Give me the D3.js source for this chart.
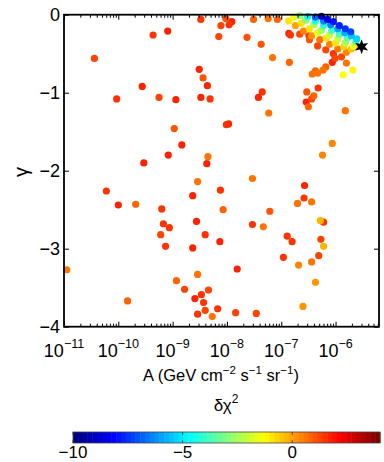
<!DOCTYPE html>
<html>
<head>
  <meta charset="UTF-8">
  <script src="https://d3js.org/d3.v7.min.js"></script>
  <style>
    body { margin: 0; background: #fff; }
    text { font-family: "Liberation Sans", Arial, sans-serif; fill: #000; }
  </style>
</head>
<body>
<svg></svg>
<script>
  let width = 384,
    height = 462;

  // log10 of A (GeV cm^-2 s^-1 sr^-1), gamma, delta chi^2
  const logA = [
    -10.44, -9.36, -9.09, -8.48, -8.51, -9.56, -10.03, -9.25, -8.94, -8.48,
    -8.97, -8.83, -9.08, -9.53, -8.11, -8.02, -7.96, -7.91, -8.15, -7.51,
    -7.24, -7.07, -6.86, -7.63, -7.37, -6.86, -6.83, -7.16, -6.85, -8.44,
    -8.36, -8.31, -7.35, -7.42, -7.23, -8.01, -7.97, -8.35, -8.37, -7.53,
    -6.06, -6.24, -5.82, -6.53, -6.40, -6.44, -6.54, -6.50, -6.32, -5.86,
    -5.68, -5.80, -6.43, -6.37, -6.33, -6.23, -6.18, -6.49, -10.22, -10.00,
    -9.68, -9.20, -9.17, -9.06, -9.22, -9.13, -10.95, -8.93, -8.78, -8.59,
    -9.83, -8.54, -8.63, -8.54, -8.56, -8.63, -8.54, -8.12, -8.07, -8.40,
    -8.13, -7.53, -7.33, -7.21, -7.81, -8.47, -8.43, -8.34, -8.40, -8.27,
    -8.17, -7.84, -7.46, -6.57, -6.58, -6.70, -6.44, -6.28, -6.22, -6.89,
    -6.80, -6.27, -6.22, -6.96, -6.68, -6.44, -6.31, -6.37, -6.60,
    // dense group near the best fit
    -6.26, -6.15, -6.04, -5.93, -5.82, -5.72,
    -6.37, -6.22, -6.09, -5.96, -5.83, -5.71, -5.61,
    -6.51, -6.37, -6.22, -6.07, -5.93, -5.78, -5.63,
    -6.66, -6.55, -6.40, -6.26, -6.11, -5.96, -5.82, -5.67,
    -6.77, -6.63, -6.48, -6.33, -6.17, -6.00, -5.85, -5.71,
    -6.74, -6.59, -6.44, -6.29, -6.11, -5.96, -5.80, -5.63,
    -6.66, -6.48, -6.33, -6.18, -6.04, -5.89, -6.06, -6.01
  ];
  const gamma = [
    -0.56, -0.26, -0.21, -0.06, -0.70, -0.92, -1.08, -1.06, -1.09, -1.06,
    -1.46, -1.67, -1.80, -1.90, -0.14, -0.05, -0.13, -0.09, -0.28, -0.06,
    -0.05, -0.06, -0.08, -0.29, -0.38, -0.24, -0.26, -0.55, -0.61, -0.81,
    -0.91, -1.08, -0.99, -1.06, -1.26, -1.41, -1.40, -1.82, -1.91, -2.10,
    -1.65, -1.80, -1.23, -0.99, -1.04, -1.08, -1.12, -1.18, -0.94, -0.77,
    -0.71, -0.62, -0.76, -0.72, -0.75, -0.71, -0.67, -0.27, -2.26, -2.44,
    -2.43, -2.49, -2.68, -2.73, -2.82, -2.97, -3.27, -3.41, -3.52, -3.64,
    -3.67, -3.84, -2.32, -2.14, -2.65, -2.99, -3.33, -2.25, -2.50, -2.82,
    -2.91, -2.69, -2.72, -2.52, -3.26, -3.59, -3.69, -3.53, -3.79, -3.87,
    -3.77, -3.82, -3.83, -2.19, -2.35, -2.42, -2.40, -2.64, -2.66, -2.84,
    -2.91, -2.88, -2.97, -3.11, -3.21, -3.17, -3.09, -3.43, -3.74,
    -0.02, -0.06, -0.09, -0.14, -0.18, -0.22,
    -0.03, -0.08, -0.13, -0.18, -0.23, -0.27, -0.31,
    -0.02, -0.08, -0.14, -0.20, -0.25, -0.30, -0.35,
    -0.01, -0.07, -0.13, -0.20, -0.26, -0.31, -0.36, -0.40,
    -0.03, -0.11, -0.18, -0.23, -0.30, -0.36, -0.41, -0.44,
    -0.14, -0.21, -0.27, -0.32, -0.38, -0.44, -0.48, -0.41,
    -0.25, -0.32, -0.40, -0.45, -0.50, -0.54, -0.61, -0.56
  ];
  const dchi2 = [
    1.3, 1.5, 1.6, 1.4, 1.7, 1.6, 1.5, 1.3, 1.7, 1.7,
    1.0, 1.7, 1.6, 1.7, 1.3, 1.1, 1.4, 1.8, 1.2, 0.9,
    0.7, 0.8, -1.0, 1.1, 1.0, 1.6, 1.4, 0.7, 0.9, 1.0,
    1.7, 1.5, 1.4, 1.8, 0.6, 1.5, 1.6, 0.7, 1.8, 0.5,
    0.3, 0.4, 0.5, 1.1, 0.8, 1.3, 1.8, 0.9, 1.4, -1.3,
    -1.1, 0.7, 0.6, 0.9, 0.7, 0.5, 0.8, 1.4, 1.4, 1.6,
    0.9, 1.4, 1.4, 1.5, 1.3, 1.5, 0.5, 0.8, 1.3, 1.6,
    0.8, 1.4, 1.7, 0.6, 1.6, 1.6, 0.7, 1.5, 0.8, 1.4,
    1.6, 1.4, 0.6, 1.1, 1.6, 1.4, 1.5, 1.2, 1.2, 0.7,
    1.4, 1.3, 1.3, 1.6, 1.5, 0.7, 0.5, -0.3, 1.5, 1.4,
    1.5, 1.3, -0.2, 1.5, 0.4, 0.5, 1.2, 0.2, 0.2,
    -8.6, -8.3, -8.0, -7.8, -7.5, -7.2,
    -6.8, -6.5, -6.3, -6.0, -5.8, -5.5, -5.2,
    -4.8, -4.5, -4.3, -4.0, -3.8, -3.5, -3.3,
    -3.0, -3.0, -2.5, -2.5, -2.0, -2.0, -2.5, -1.5,
    -1.5, -1.0, -1.0, -1.5, -1.0, -1.0, -0.8, -0.5,
    0.0, 0.3, 0.2, 0.5, 0.3, 0.5, 0.4, 0.2,
    1.2, 1.0, 1.3, 1.2, 1.4, 1.3, 1.8, 1.2
  ];

  const bestLogA = -5.52, bestGamma = -0.41;

  const xDecades = [-11, -10, -9, -8, -7, -6];
  const yTicks = [0, -1, -2, -3, -4];
  const cTicks = [-10, -5, 0];
  const cRange = [-10, 4];

  let svg = d3.select("svg")
    .attr("width", width)
    .attr("height", height);

  let x = d3.scaleLog().domain([1e-11, Math.pow(10, -5.2)]).range([64, 379]);
  let y = d3.scaleLinear().domain([-4, 0]).range([326.7, 14.7]);

  // MATLAB style jet, 64 steps
  function jet(t) {
    t = Math.max(0, Math.min(1, t));
    t = Math.min(63, Math.floor(t * 64)) / 63;
    let f = v => Math.round(255 * Math.max(0, Math.min(1, v)));
    return d3.rgb(f(1.5 - Math.abs(4 * t - 3)), f(1.5 - Math.abs(4 * t - 2)), f(1.5 - Math.abs(4 * t - 1)));
  }
  let cNorm = d3.scaleLinear().domain(cRange).range([0, 1]);

  let points = logA.map((v, i) => ({ a: Math.pow(10, v), g: gamma[i], c: dchi2[i] }));
  points.sort((p, q) => q.c - p.c);

  svg.append("g")
    .selectAll("circle")
    .data(points)
    .enter()
    .append("circle")
    .attr("cx", d => x(d.a))
    .attr("cy", d => y(d.g))
    .attr("r", 3.6)
    .attr("fill", d => jet(cNorm(d.c)));

  // best fit, six pointed star
  let starPts = d3.range(12).map(i => [i * Math.PI / 6, i % 2 ? 3.3 : 7.5]);
  svg.append("path")
    .attr("d", d3.lineRadial().curve(d3.curveLinearClosed)(starPts))
    .attr("transform", "translate(" + x(Math.pow(10, bestLogA)) + "," + y(bestGamma) + ")")
    .attr("fill", "#000");

  // axes, ticks pointing inwards
  let majors = xDecades.map(d => Math.pow(10, d));
  let minors = [];
  xDecades.forEach(d => {
    for (let k = 2; k <= 9; k++) {
      let v = k * Math.pow(10, d);
      if (v < x.domain()[1]) minors.push(v);
    }
  });

  function styleAxis(g) {
    g.select(".domain").remove();
    g.selectAll("line").attr("stroke", "#000").attr("stroke-width", 1);
  }

  svg.append("g").attr("transform", "translate(0,326.7)")
    .call(d3.axisBottom(x).tickValues(majors).tickSize(-5).tickFormat("")).call(styleAxis);
  svg.append("g").attr("transform", "translate(0,326.7)")
    .call(d3.axisBottom(x).tickValues(minors).tickSize(-3).tickFormat("")).call(styleAxis);
  svg.append("g").attr("transform", "translate(0,14.7)")
    .call(d3.axisTop(x).tickValues(majors).tickSize(-5).tickFormat("")).call(styleAxis);
  svg.append("g").attr("transform", "translate(0,14.7)")
    .call(d3.axisTop(x).tickValues(minors).tickSize(-3).tickFormat("")).call(styleAxis);
  svg.append("g").attr("transform", "translate(64,0)")
    .call(d3.axisLeft(y).tickValues(yTicks).tickSize(-5).tickFormat("")).call(styleAxis);
  svg.append("g").attr("transform", "translate(379,0)")
    .call(d3.axisRight(y).tickValues(yTicks).tickSize(-5).tickFormat("")).call(styleAxis);

  svg.append("rect")
    .attr("x", 64).attr("y", 14.7)
    .attr("width", 379 - 64).attr("height", 326.7 - 14.7)
    .attr("fill", "none").attr("stroke", "#000").attr("stroke-width", 1.8);

  // y tick labels
  svg.append("g").selectAll("text")
    .data(yTicks)
    .enter()
    .append("text")
    .attr("x", 60)
    .attr("y", d => y(d))
    .attr("dy", "0.36em")
    .attr("text-anchor", "end")
    .style("font-size", "18px")
    .text(d => d < 0 ? "\u2212" + Math.abs(d) : d);

  // x tick labels 10^n
  let xl = svg.append("g").selectAll("text")
    .data(xDecades)
    .enter()
    .append("text")
    .attr("x", d => x(Math.pow(10, d)))
    .attr("y", 357)
    .attr("text-anchor", "middle")
    .style("font-size", "18px");
  xl.append("tspan").text("10");
  xl.append("tspan").attr("dy", -9).style("font-size", "12.5px").text(d => "\u2212" + Math.abs(d));

  // axis labels
  let xlab = svg.append("text")
    .attr("x", 221).attr("y", 381)
    .attr("text-anchor", "middle")
    .style("font-size", "16.5px");
  xlab.append("tspan").text("A (GeV cm");
  xlab.append("tspan").attr("dy", -7).style("font-size", "11.5px").text("\u22122");
  xlab.append("tspan").attr("dy", 7).text(" s");
  xlab.append("tspan").attr("dy", -7).style("font-size", "11.5px").text("\u22121");
  xlab.append("tspan").attr("dy", 7).text(" sr");
  xlab.append("tspan").attr("dy", -7).style("font-size", "11.5px").text("\u22121");
  xlab.append("tspan").attr("dy", 7).text(")");

  svg.append("text")
    .attr("transform", "translate(28,172) rotate(-90)")
    .attr("text-anchor", "middle")
    .style("font-size", "20px")
    .text("\u03b3");

  let clab = svg.append("text")
    .attr("x", 226).attr("y", 411)
    .attr("text-anchor", "middle")
    .style("font-size", "17px");
  clab.append("tspan").text("\u03b4\u03c7");
  clab.append("tspan").attr("dy", -8).style("font-size", "12px").text("2");

  // colorbar
  let cx = d3.scaleLinear().domain(cRange).range([73, 380]);
  let steps = d3.range(64);
  let cb = svg.append("g");
  cb.selectAll("rect")
    .data(steps)
    .enter()
    .append("rect")
    .attr("x", i => cx(cRange[0] + i * (cRange[1] - cRange[0]) / 64))
    .attr("width", (cx(cRange[1]) - cx(cRange[0])) / 64 + 0.5)
    .attr("y", 432)
    .attr("height", 11)
    .attr("fill", i => jet(i / 63));
  cb.append("rect")
    .attr("x", 73).attr("y", 432).attr("width", 307).attr("height", 11)
    .attr("fill", "none").attr("stroke", "#444").attr("stroke-width", 0.8);
  cb.selectAll(".ct")
    .data(cTicks)
    .enter()
    .append("path")
    .attr("d", d => "M" + cx(d) + ",432v3M" + cx(d) + ",443v-3")
    .attr("stroke", "#333")
    .attr("stroke-width", 0.8);
  cb.selectAll("text")
    .data(cTicks)
    .enter()
    .append("text")
    .attr("x", d => cx(d))
    .attr("y", 458)
    .attr("text-anchor", "middle")
    .style("font-size", "17px")
    .text(d => d < 0 ? "\u2212" + Math.abs(d) : d);
</script>
</body>
</html>
